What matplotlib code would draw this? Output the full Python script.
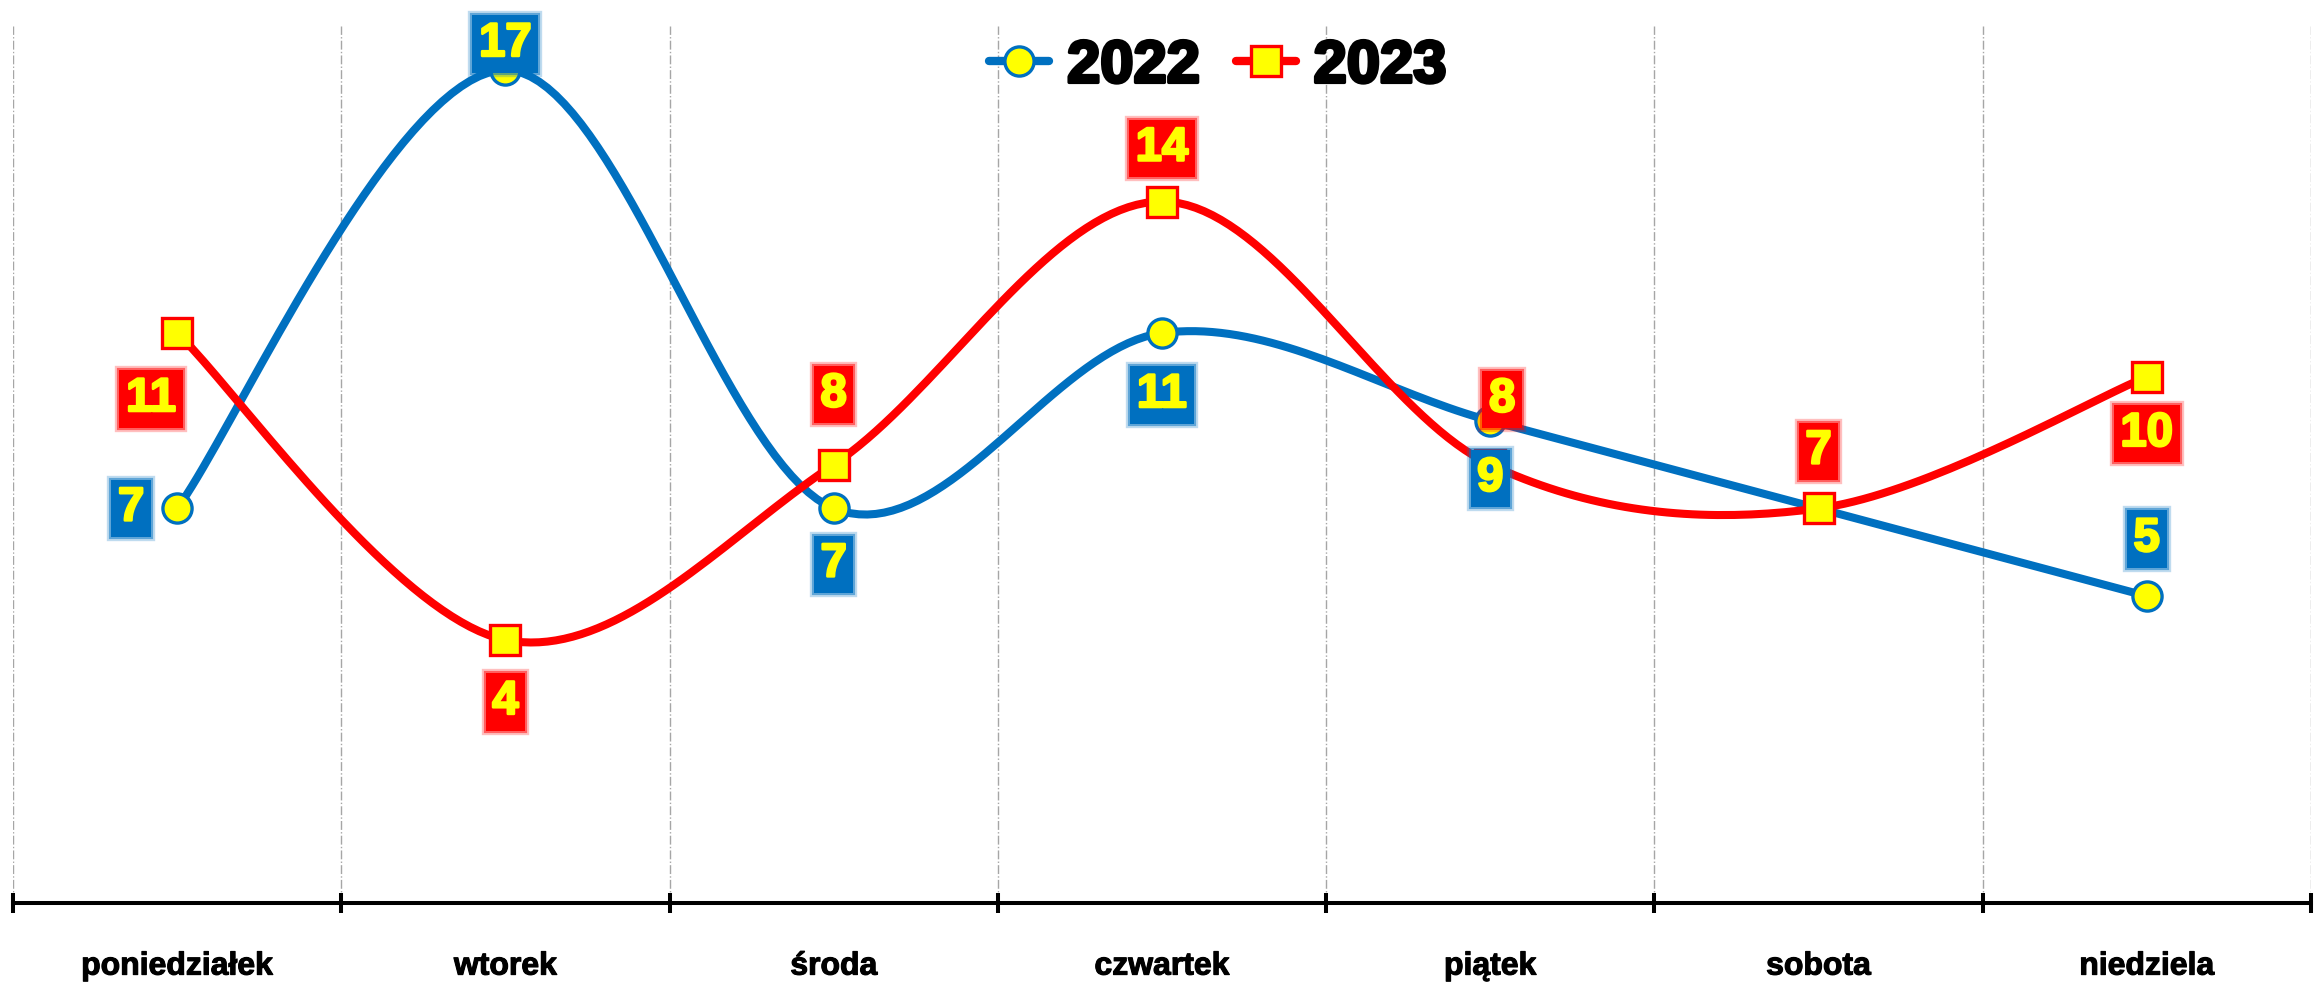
import numpy as np
import matplotlib
matplotlib.use('Agg')
import matplotlib.pyplot as plt
import matplotlib.patheffects as pe
from matplotlib.lines import Line2D

plt.rcParams['font.family'] = ['Liberation Sans', 'DejaVu Sans']
plt.rcParams['font.weight'] = 'bold'

days = ['poniedziałek', 'wtorek', 'środa', 'czwartek', 'piątek', 'sobota', 'niedziela']
vals_2022 = [7, 17, 7, 11, 9, 7, 5]
vals_2023 = [11, 4, 8, 14, 8, 7, 10]

# label offsets in pixels (dx, dy), None = label hidden
off_2022 = [(-46, 0), (0, 26), (0, -56), (0, -62), (0, -58), None, (0, 57)]
off_2023 = [(-26, -66), (0, -62), (0, 70), (0, 53), (12, 65), (0, 57), (0, -57)]

BLUE = '#0070C0'
RED = '#FF0000'
YELLOW = '#FFFF00'


def smooth(x, y, n=40):
    # excel-like smoothed line: catmull-rom as cubic bezier segments
    x = np.asarray(x, float)
    y = np.asarray(y, float)
    px = np.concatenate([[x[0]], x, [x[-1]]])
    py = np.concatenate([[y[0]], y, [y[-1]]])
    t = np.linspace(0, 1, n)
    xs, ys = [], []
    for i in range(1, len(px) - 2):
        p0 = np.array([px[i], py[i]])
        p3 = np.array([px[i + 1], py[i + 1]])
        c1 = p0 + (np.array([px[i + 1], py[i + 1]]) - np.array([px[i - 1], py[i - 1]])) / 6
        c2 = p3 - (np.array([px[i + 2], py[i + 2]]) - np.array([px[i], py[i]])) / 6
        b = ((1 - t) ** 3)[:, None] * p0 + (3 * (1 - t) ** 2 * t)[:, None] * c1 \
            + (3 * (1 - t) * t ** 2)[:, None] * c2 + (t ** 3)[:, None] * p3
        xs.append(b[:, 0])
        ys.append(b[:, 1])
    return np.concatenate(xs), np.concatenate(ys)


fig = plt.figure(figsize=(23.23, 9.83), dpi=100, facecolor='w')
ax = fig.add_axes([0.0056, 0.0814, 0.9892, 0.892])

x = np.arange(len(days))

series = [
    (vals_2022, off_2022, BLUE, 'o', '2022'),
    (vals_2023, off_2023, RED, 's', '2023'),
]

for k, (vals, offs, col, mk, name) in enumerate(series):
    sx, sy = smooth(x, vals)
    ax.plot(sx, sy, color=col, lw=5.8, zorder=3 + k, solid_capstyle='round')
    ax.plot(x, vals, linestyle='none', marker=mk, markersize=21,
            markerfacecolor=YELLOW, markeredgecolor=col, markeredgewidth=2.4,
            zorder=3 + k)

for vals, offs, col, mk, name in series:
    for xi, v, o in zip(x, vals, offs):
        if o is None:
            continue
        t = ax.annotate(str(v), (xi, v), xytext=o, textcoords='offset pixels',
                        ha='center', va='center', fontsize=34, fontweight='bold',
                        color=YELLOW, zorder=10,
                        bbox=dict(boxstyle='square,pad=0.14', fc=col, ec='none'))
        t.set_path_effects([pe.withStroke(linewidth=1.8, foreground=YELLOW)])
        t.get_bbox_patch().set_path_effects([
            pe.Stroke(linewidth=6, foreground=col, alpha=0.25),
            pe.Stroke(linewidth=3, foreground=col, alpha=0.5),
            pe.Normal()])

ax.set_xlim(-0.5, 6.5)
ax.set_ylim(-2, 18)

ax.set_xticks(np.arange(-0.5, 7, 1))
ax.set_xticklabels([])
ax.set_xticks(x, minor=True)
ax.set_xticklabels(days, minor=True, fontsize=23, fontweight='bold')
for lab in ax.get_xticklabels(minor=True):
    lab.set_path_effects([pe.withStroke(linewidth=0.8, foreground='black')])
ax.tick_params(axis='x', which='major', direction='inout', length=15, width=2.9, color='black')
ax.tick_params(axis='x', which='minor', length=0, pad=35)
ax.set_yticks([])
ax.grid(axis='x', which='major', color='#A6A6A6', linestyle='-.', linewidth=1.0)

for s in ['top', 'left', 'right']:
    ax.spines[s].set_visible(False)
ax.spines['bottom'].set_linewidth(2.9)
ax.spines['bottom'].set_color('black')

handles = [
    Line2D([], [], color=BLUE, lw=6, marker='o', markersize=21, markerfacecolor=YELLOW,
           markeredgecolor=BLUE, markeredgewidth=2.4, solid_capstyle='round'),
    Line2D([], [], color=RED, lw=6, marker='s', markersize=21, markerfacecolor=YELLOW,
           markeredgecolor=RED, markeredgewidth=2.4, solid_capstyle='round'),
]
leg = fig.legend(handles, ['2022', '2023'], loc='center', bbox_to_anchor=(0.5243, 0.932),
                 ncol=2, frameon=False, handlelength=1.0, handletextpad=0.3, columnspacing=0.6,
                 prop={'size': 43, 'weight': 'bold'})
for txt in leg.get_texts():
    txt.set_path_effects([pe.withStroke(linewidth=2.5, foreground='black')])

fig.savefig('out.png', dpi=100, facecolor='w')
